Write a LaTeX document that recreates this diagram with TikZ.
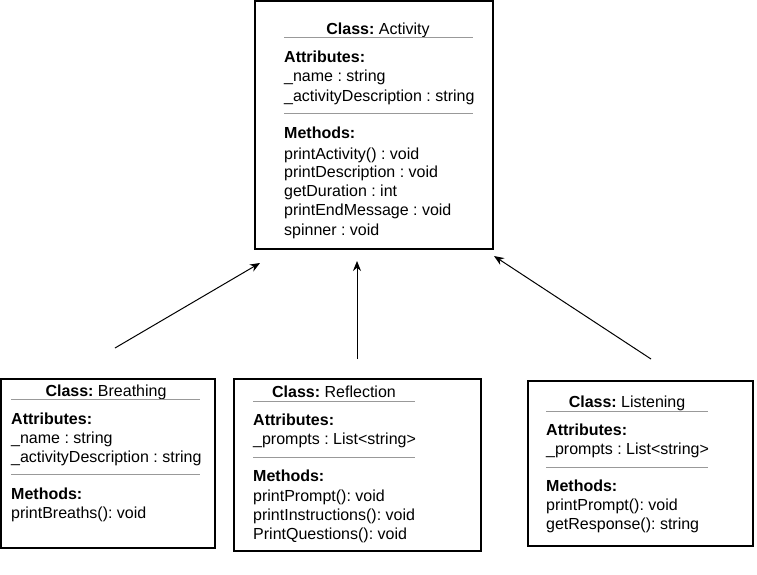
\documentclass[tikz,border=0pt]{standalone}
\usepackage{fontspec}
\setmainfont{Liberation Sans}
\usetikzlibrary{arrows.meta}
\frenchspacing
\begin{document}
\begin{tikzpicture}[x=1pt,y=-1pt,
  classbox/.style={draw=black,line width=1.1pt,fill=white},
  sep/.style={draw=black!40,line width=1pt},
  txt/.style={anchor=base west,inner sep=0pt,font=\fontsize{16}{19}\selectfont\frenchspacing},
  ttl/.style={anchor=base,inner sep=0pt,font=\fontsize{16}{19}\selectfont\frenchspacing},
  inherit/.style={line width=1pt,-{Stealth[length=10pt,width=8pt]}}]
\useasboundingbox (0,0) rectangle (757,575);

% ---------- Activity ----------
\draw[classbox] (255,1) rectangle (493,249);
\node[ttl] (acttitle) at (378,35) {\textbf{Class:} Activity};
\draw[sep] (284,38) -- (473,38);
\node[txt] (actattr) at (284,63) {\textbf{Attributes:}};
\node[txt] (acta1) at (284,82) {\_name : string};
\node[txt] (acta2) at (284,102) {\_activityDescription : string};
\draw[sep] (284,114) -- (473,114);
\node[txt] (actmeth) at (284,139) {\textbf{Methods:}};
\node[txt] (actm1) at (284,159) {printActivity() : void};
\node[txt] (actm2) at (284,177) {printDescription : void};
\node[txt] (actm3) at (284,196) {getDuration : int};
\node[txt] (actm4) at (284,215) {printEndMessage : void};
\node[txt] (actm5) at (284,235) {spinner : void};

% ---------- Breathing ----------
\draw[classbox] (1,379) rectangle (215,548);
\node[ttl] (brtitle) at (106,396) {\textbf{Class:} Breathing};
\draw[sep] (11,399) -- (200,399);
\node[txt] (brattr) at (11,424) {\textbf{Attributes:}};
\node[txt] (bra1) at (11,443) {\_name : string};
\node[txt] (bra2) at (11,462) {\_activityDescription : string};
\draw[sep] (11,474) -- (200,474);
\node[txt] (brmeth) at (11,499) {\textbf{Methods:}};
\node[txt] (brm1) at (11,518) {printBreaths(): void};

% ---------- Reflection ----------
\draw[classbox] (234,379) rectangle (481,551);
\node[ttl] (retitle) at (334,397) {\textbf{Class:} Reflection};
\draw[sep] (253,401) -- (415,401);
\node[txt] (reattr) at (253,425) {\textbf{Attributes:}};
\node[txt] (rea1) at (253,444) {\_prompts : List<string>};
\draw[sep] (253,457) -- (415,457);
\node[txt] (remeth) at (253,481) {\textbf{Methods:}};
\node[txt] (rem1) at (253,501) {printPrompt(): void};
\node[txt] (rem2) at (253,520) {printInstructions(): void};
\node[txt] (rem3) at (253,539) {PrintQuestions(): void};

% ---------- Listening ----------
\draw[classbox] (528,381) rectangle (753,546);
\node[ttl] (litelte) at (627,407) {\textbf{Class:} Listening};
\draw[sep] (546,411) -- (708,411);
\node[txt] (liattr) at (546,435) {\textbf{Attributes:}};
\node[txt] (lia1) at (546,454) {\_prompts : List<string>};
\draw[sep] (546,467) -- (708,467);
\node[txt] (limeth) at (546,491) {\textbf{Methods:}};
\node[txt] (lim1) at (546,510) {printPrompt(): void};
\node[txt] (lim2) at (546,529) {getResponse(): string};

% ---------- arrows ----------
\coordinate (bfrom) at (115,348);
\coordinate (bto) at (260,263);
\coordinate (rfrom) at (357,359);
\coordinate (rto) at (357,261);
\coordinate (lfrom) at (651,359);
\coordinate (lto) at (494,256);
\draw[inherit] (bfrom) -- (bto);
\draw[inherit] (rfrom) -- (rto);
\draw[inherit] (lfrom) -- (lto);
\end{tikzpicture}
\end{document}
